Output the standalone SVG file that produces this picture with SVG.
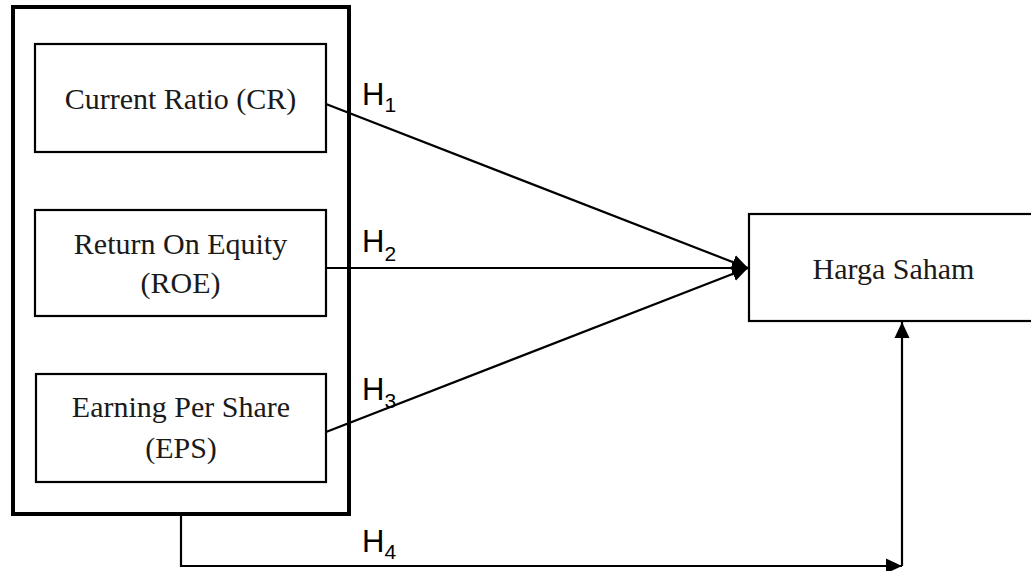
<svg xmlns="http://www.w3.org/2000/svg" width="1031" height="571" viewBox="0 0 1031 571">
<defs>
<style>
.box{fill:#fff;stroke:#000;stroke-width:2.2}
.outer{fill:none;stroke:#000;stroke-width:4}
.t{font-family:"Liberation Serif","Times New Roman",serif;font-size:30px;fill:#1a1a1a;text-anchor:middle}
.h{font-family:"Liberation Sans",Arial,sans-serif;font-size:31px;fill:#000}
.sub{font-size:21px}
.c{fill:none;stroke:#000;stroke-width:2.2}
</style>
<marker id="arr" markerUnits="userSpaceOnUse" markerWidth="18" markerHeight="18" viewBox="0 0 18 18" refX="16" refY="9" orient="auto">
<path d="M0,1.5 L16,9 L0,16.5 Z" fill="#000"/>
</marker>
</defs>
<rect width="1031" height="571" fill="#fff"/>
<g id="independen">
<rect class="outer" x="13" y="7" width="336" height="507"/>
</g>
<g id="cr">
<rect class="box" x="35" y="44" width="291" height="108"/>
<text class="t" x="180.5" y="109">Current Ratio (CR)</text>
</g>
<g id="roe">
<rect class="box" x="35" y="210" width="291" height="106"/>
<text class="t" x="180.5" y="254">Return On Equity</text>
<text class="t" x="180.5" y="293">(ROE)</text>
</g>
<g id="eps">
<rect class="box" x="36" y="374" width="290" height="108"/>
<text class="t" x="181" y="417">Earning Per Share</text>
<text class="t" x="181" y="458">(EPS)</text>
</g>
<g id="harga">
<rect class="box" x="749" y="214" width="300" height="107"/>
<text class="t" x="893.5" y="279">Harga Saham</text>
</g>
<g id="connectors">
<line class="c" x1="326" y1="104" x2="748" y2="268" marker-end="url(#arr)"/>
<line class="c" x1="326" y1="268" x2="748" y2="268" marker-end="url(#arr)"/>
<line class="c" x1="326" y1="432" x2="748" y2="268" marker-end="url(#arr)"/>
<polyline class="c" points="181,514 181,566 902,566" marker-end="url(#arr)"/>
<line class="c" x1="902" y1="566" x2="902" y2="322" marker-end="url(#arr)"/>
</g>
<g id="labels">
<text class="h" x="362" y="105">H<tspan class="sub" dy="7">1</tspan></text>
<text class="h" x="362" y="252">H<tspan class="sub" dy="9">2</tspan></text>
<text class="h" x="362" y="400">H<tspan class="sub" dy="8">3</tspan></text>
<text class="h" x="362" y="552">H<tspan class="sub" dy="7">4</tspan></text>
</g>
</svg>
